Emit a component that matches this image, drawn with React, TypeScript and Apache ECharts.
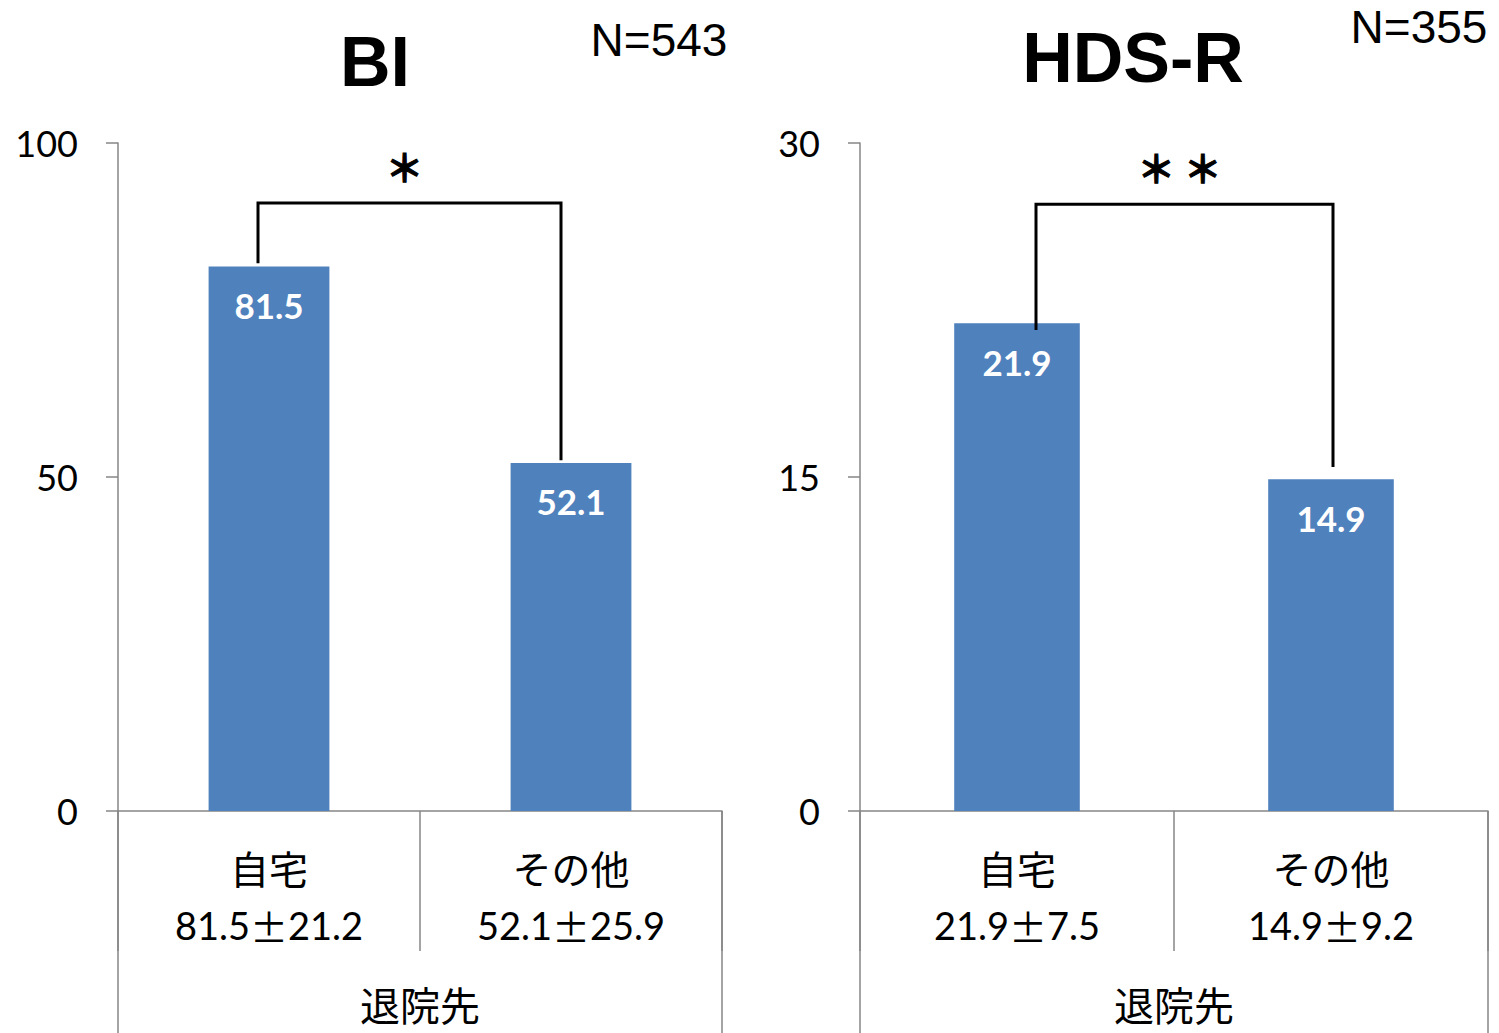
import React, { useEffect, useRef } from 'react';
import * as echarts from 'echarts';

// ---- data ----
const categories = ['自宅', 'その他'];
const groupLabel = '退院先';
const titles = ['BI', 'HDS-R'];
const sampleSizes = ['N=543', 'N=355'];
const biMeans = [81.5, 52.1];
const biSds = [21.2, 25.9];
const hdsMeans = [21.9, 14.9];
const hdsSds = [7.5, 9.2];
const biAxis = [0, 100, 50]; // min, max, interval
const hdsAxis = [0, 30, 15];
const stars = ['＊', '＊ ＊'];
const bracketTop = [91, 27.25];
const bracketLeftEnd = [82.0, 21.6];
const bracketRightEnd = [52.5, 15.45];

const means = [biMeans, hdsMeans];
const sds = [biSds, hdsSds];
const axes = [biAxis, hdsAxis];

// ---- layout / style ----
const GRIDS = [
  { left: 118, top: 143, width: 604, height: 668 },
  { left: 860, top: 143, width: 628, height: 668 },
];
const BRACKET_DX = [[-11, -10], [19, 2]];
const TITLE_POS = [[375, 62], [1133, 58]];
const N_POS = [[659, 40], [1419, 27]];
const GRAY = '#868686';
const BAR = '#4F81BD';

export default function App() {
  const ref = useRef<HTMLDivElement>(null);

  useEffect(() => {
    if (!ref.current) return;
    const chart = echarts.init(ref.current, undefined, { renderer: 'svg' });

    const xAxis: any[] = [];
    const yAxis: any[] = [];
    const series: any[] = [];
    const graphic: any[] = [];

    [0, 1].forEach((i) => {
      xAxis.push({
        type: 'category',
        gridIndex: i,
        position: 'bottom',
        data: categories,
        axisLine: { show: true, lineStyle: { color: GRAY, width: 1.5 } },
        axisTick: { show: true, interval: 0, length: 140, alignWithLabel: false, lineStyle: { color: GRAY, width: 1.5 } },
        axisLabel: {
          interval: 0,
          margin: 27,
          formatter: (v: string, idx: number) =>
            `{a|${v}}\n{b|${means[i][idx].toFixed(1)}}{c|±}{b|${sds[i][idx].toFixed(1)}}`,
          rich: {
            a: { fontFamily: 'Noto Sans CJK JP', fontSize: 39, lineHeight: 58, color: '#000' },
            b: { fontFamily: 'Lato', fontSize: 38, lineHeight: 58, color: '#000' },
            c: { fontFamily: 'Noto Sans CJK JP', fontSize: 38, lineHeight: 58, color: '#000' },
          },
        },
      });
      xAxis.push({
        type: 'category',
        gridIndex: i,
        position: 'bottom',
        data: [groupLabel],
        axisLine: { show: false },
        axisTick: { show: true, interval: 0, length: 222, alignWithLabel: false, lineStyle: { color: GRAY, width: 1.5 } },
        axisLabel: {
          margin: 171,
          fontFamily: 'Noto Sans CJK JP',
          fontSize: 40,
          lineHeight: 44,
          color: '#000',
        },
      });
      yAxis.push({
        type: 'value',
        gridIndex: i,
        min: axes[i][0],
        max: axes[i][1],
        interval: axes[i][2],
        splitLine: { show: false },
        axisLine: { show: true, lineStyle: { color: GRAY, width: 1.5 } },
        axisTick: { show: true, length: 12, lineStyle: { color: GRAY, width: 1.5 } },
        axisLabel: { margin: 40, fontFamily: 'Lato', fontSize: 36, color: '#000' },
      });
      series.push({
        type: 'bar',
        xAxisIndex: i * 2,
        yAxisIndex: i,
        data: means[i],
        barWidth: '40%',
        itemStyle: { color: BAR },
        label: {
          show: true,
          position: 'insideTop',
          distance: 21,
          color: '#fff',
          fontFamily: 'Lato',
          fontWeight: 'bold',
          fontSize: 35,
          formatter: (p: any) => Number(p.value).toFixed(1),
        },
      });
      series.push({
        type: 'custom',
        xAxisIndex: i * 2,
        yAxisIndex: i,
        silent: true,
        z: 5,
        data: [[0, bracketTop[i]]],
        renderItem: (_params: any, api: any) => {
          const pL = api.coord([0, bracketLeftEnd[i]]);
          const pT0 = api.coord([0, bracketTop[i]]);
          const pT1 = api.coord([1, bracketTop[i]]);
          const pR = api.coord([1, bracketRightEnd[i]]);
          const x1 = pL[0] + BRACKET_DX[i][0];
          const x2 = pR[0] + BRACKET_DX[i][1];
          return {
            type: 'group',
            children: [
              {
                type: 'polyline',
                shape: { points: [[x1, pL[1]], [x1, pT0[1]], [x2, pT1[1]], [x2, pR[1]]] },
                style: { stroke: '#000', lineWidth: 3, fill: 'none' },
              },
              {
                type: 'text',
                x: (x1 + x2) / 2 - 5,
                y: pT0[1] - 38,
                style: {
                  text: stars[i],
                  fontFamily: 'Noto Sans CJK JP',
                  fontWeight: 'bold',
                  fontSize: 38,
                  fill: '#000',
                  stroke: '#000',
                  lineWidth: 1,
                  align: 'center',
                  verticalAlign: 'middle',
                },
              },
            ],
          };
        },
      });
      graphic.push({
        type: 'text',
        x: TITLE_POS[i][0],
        y: TITLE_POS[i][1],
        style: {
          text: titles[i],
          fontFamily: 'Liberation Sans',
          fontWeight: 'bold',
          fontSize: 70,
          fill: '#000',
          align: 'center',
          verticalAlign: 'middle',
        },
      });
      graphic.push({
        type: 'text',
        x: N_POS[i][0],
        y: N_POS[i][1],
        style: {
          text: sampleSizes[i],
          fontFamily: 'Liberation Sans',
          fontSize: 46,
          fill: '#000',
          align: 'center',
          verticalAlign: 'middle',
        },
      });
    });

    chart.setOption({
      animation: false,
      backgroundColor: '#fff',
      grid: GRIDS.map((g) => ({ ...g, containLabel: false })),
      xAxis,
      yAxis,
      series,
      graphic,
    });

    return () => chart.dispose();
  }, []);

  return (
    <div
      ref={ref}
      style={{ position: 'fixed', left: 0, top: 0, width: 1499, height: 1033, background: '#fff' }}
    />
  );
}
